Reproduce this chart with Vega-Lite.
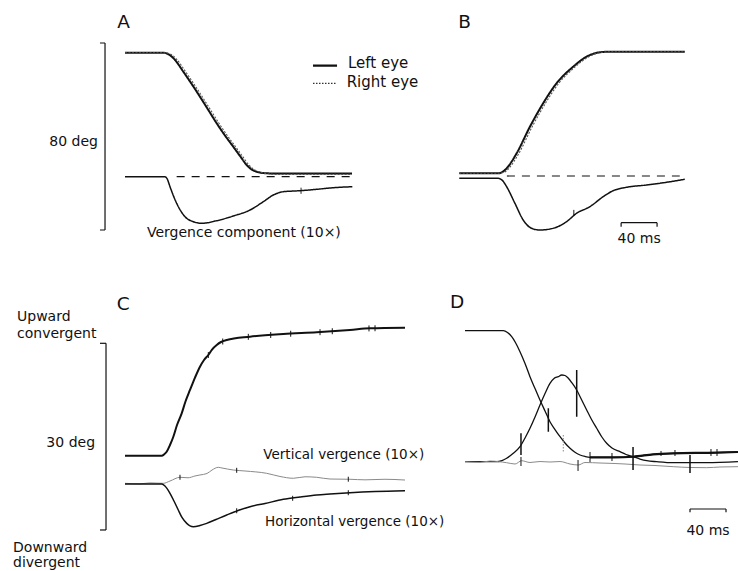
{
  "$schema": "https://vega.github.io/schema/vega-lite/v6.json",
  "padding": 0,
  "background": "white",
  "spacing": 0,
  "bounds": "flush",
  "columns": 2,
  "config": {"view": {"stroke": null}, "font": "DejaVu Sans", "text": {"color": "#111"}},
  "datasets": {
    "A_lines": [
      {"s":"Left eye","t":0,"d":53.05},{"s":"Left eye","t":42.2,"d":53.05},{"s":"Left eye","t":47.8,"d":52.49},{"s":"Left eye","t":55.6,"d":49.93},{"s":"Left eye","t":64.8,"d":44.92},{"s":"Left eye","t":74.1,"d":39.66},{"s":"Left eye","t":83.3,"d":34.22},{"s":"Left eye","t":92.6,"d":28.53},{"s":"Left eye","t":101.9,"d":22.84},{"s":"Left eye","t":111.1,"d":17.63},{"s":"Left eye","t":120.3,"d":12.83},{"s":"Left eye","t":127.8,"d":8.86},{"s":"Left eye","t":135.2,"d":5.01},{"s":"Left eye","t":140,"d":3.29},{"s":"Left eye","t":146.3,"d":2.14},{"s":"Left eye","t":153.3,"d":1.58},{"s":"Left eye","t":166.7,"d":1.37},{"s":"Left eye","t":252.2,"d":1.37},
      {"s":"Right eye","t":0,"d":53.05},{"s":"Right eye","t":42.2,"d":53.05},{"s":"Right eye","t":50.3,"d":52.49},{"s":"Right eye","t":58.1,"d":49.93},{"s":"Right eye","t":67.3,"d":44.92},{"s":"Right eye","t":76.6,"d":39.66},{"s":"Right eye","t":85.8,"d":34.22},{"s":"Right eye","t":95.1,"d":28.53},{"s":"Right eye","t":104.4,"d":22.84},{"s":"Right eye","t":113.6,"d":17.63},{"s":"Right eye","t":122.8,"d":12.83},{"s":"Right eye","t":130.3,"d":8.86},{"s":"Right eye","t":137.7,"d":5.01},{"s":"Right eye","t":142.5,"d":3.29},{"s":"Right eye","t":148.8,"d":2.14},{"s":"Right eye","t":155.8,"d":1.4},{"s":"Right eye","t":169,"d":1.0},{"s":"Right eye","t":252.2,"d":1.0},
      {"s":"Vergence","t":0,"d":0},{"s":"Vergence","t":44.4,"d":0},{"s":"Vergence","t":47.2,"d":-1.2},{"s":"Vergence","t":50,"d":-4.28},{"s":"Vergence","t":57.4,"d":-11.38},{"s":"Vergence","t":66.7,"d":-17.11},{"s":"Vergence","t":75.9,"d":-19.25},{"s":"Vergence","t":85.2,"d":-19.94},{"s":"Vergence","t":101.9,"d":-18.82},{"s":"Vergence","t":120.3,"d":-16.81},{"s":"Vergence","t":138.9,"d":-14.25},{"s":"Vergence","t":153.7,"d":-10.7},{"s":"Vergence","t":164.8,"d":-7.83},{"s":"Vergence","t":175.9,"d":-6.42},{"s":"Vergence","t":194.4,"d":-5.99},{"s":"Vergence","t":213,"d":-5.39},{"s":"Vergence","t":231.4,"d":-4.71},{"s":"Vergence","t":252.6,"d":-4.28}
    ],
    "A_rules": [
      {"k":"dash","t":57.4,"d":0,"t2":252.6,"d2":0},
      {"k":"bar","t":-22.2,"d":57.2,"t2":-22.2,"d2":-22.8},
      {"k":"bar","t":-27.8,"d":57.2,"t2":-22.2,"d2":57.2},
      {"k":"bar","t":-27.8,"d":-22.8,"t2":-22.2,"d2":-22.8},
      {"k":"legendSolid","t":208.9,"d":47.49,"t2":235.6,"d2":47.49},
      {"k":"legendDot","t":208.9,"d":39.96,"t2":235.6,"d2":39.96},
      {"k":"tick","t":195.6,"d":-4.7,"t2":195.6,"d2":-7.3}
    ],
    "A_text": [
      {"pos":"left","t":24.4,"d":-25.8,"label":"Vergence component (10×)"},
      {"pos":"legend","t":247.8,"d":46.37,"label":"Left eye"},
      {"pos":"legend","t":246.3,"d":38.5,"label":"Right eye"},
      {"pos":"right","t":-30,"d":13.13,"label":"80 deg"},
      {"pos":"letter","t":-8.6,"d":63.49,"label":"A"}
    ],
    "B_lines": [
      {"s":"Left eye","t":0,"d":1.16},{"s":"Left eye","t":43.3,"d":1.16},{"s":"Left eye","t":48,"d":1.71},{"s":"Left eye","t":52.7,"d":3.29},{"s":"Left eye","t":63.8,"d":9.71},{"s":"Left eye","t":78.6,"d":21.09},{"s":"Left eye","t":93.3,"d":31.1},{"s":"Left eye","t":108.2,"d":39.66},{"s":"Left eye","t":126.7,"d":46.76},{"s":"Left eye","t":141.6,"d":51.04},{"s":"Left eye","t":156.3,"d":52.92},{"s":"Left eye","t":167.4,"d":53.18},{"s":"Left eye","t":250.8,"d":53.18},
      {"s":"Right eye","t":0,"d":1.16},{"s":"Right eye","t":43.3,"d":1.16},{"s":"Right eye","t":50.5,"d":1.71},{"s":"Right eye","t":55.2,"d":3.29},{"s":"Right eye","t":66.3,"d":9.71},{"s":"Right eye","t":81.1,"d":21.09},{"s":"Right eye","t":95.8,"d":31.1},{"s":"Right eye","t":110.7,"d":39.66},{"s":"Right eye","t":129.2,"d":46.76},{"s":"Right eye","t":144.1,"d":51.04},{"s":"Right eye","t":158.8,"d":52.92},{"s":"Right eye","t":169.9,"d":53.18},{"s":"Right eye","t":250.8,"d":53.18},
      {"s":"Vergence","t":0,"d":-0.98},{"s":"Vergence","t":43.3,"d":-0.98},{"s":"Vergence","t":48,"d":-1.93},{"s":"Vergence","t":52.7,"d":-4.58},{"s":"Vergence","t":61.9,"d":-11.68},{"s":"Vergence","t":71.1,"d":-18.82},{"s":"Vergence","t":80.4,"d":-22.37},{"s":"Vergence","t":89.7,"d":-23.1},{"s":"Vergence","t":104.4,"d":-22.37},{"s":"Vergence","t":119.3,"d":-19.55},{"s":"Vergence","t":130.4,"d":-15.96},{"s":"Vergence","t":145.2,"d":-13.13},{"s":"Vergence","t":160,"d":-8.86},{"s":"Vergence","t":171.1,"d":-6.29},{"s":"Vergence","t":186,"d":-4.83},{"s":"Vergence","t":208.2,"d":-3.85},{"s":"Vergence","t":230.4,"d":-2.7},{"s":"Vergence","t":250.8,"d":-1.41}
    ],
    "B_rules": [
      {"k":"dash","t":53,"d":0,"t2":245.2,"d2":0},
      {"k":"bar","t":180,"d":-19.98,"t2":220,"d2":-19.98},
      {"k":"bar","t":180,"d":-19.98,"t2":180,"d2":-21.69},
      {"k":"bar","t":220,"d":-19.98,"t2":220,"d2":-21.69},
      {"k":"tick","t":127.4,"d":-14.5,"t2":127.4,"d2":-17.1}
    ],
    "B_text": [
      {"pos":"center","t":200,"d":-28.66,"label":"40 ms"},
      {"pos":"letter","t":-1.1,"d":63.44,"label":"B"}
    ],
    "C_lines": [
      {"s":"Position","t":0,"d":4.55},{"s":"Position","t":40.8,"d":4.55},{"s":"Position","t":43.3,"d":4.74},{"s":"Position","t":46.3,"d":5.19},{"s":"Position","t":50,"d":6.27},{"s":"Position","t":53.7,"d":7.6},{"s":"Position","t":57.8,"d":9.48},{"s":"Position","t":63,"d":11.36},{"s":"Position","t":67.2,"d":13.26},{"s":"Position","t":72.2,"d":15.11},{"s":"Position","t":77.8,"d":17.11},{"s":"Position","t":83.3,"d":18.85},{"s":"Position","t":87.8,"d":19.93},{"s":"Position","t":92.6,"d":20.73},{"s":"Position","t":96.7,"d":21.61},{"s":"Position","t":101.9,"d":22.34},{"s":"Position","t":106.7,"d":22.82},{"s":"Position","t":113,"d":23.14},{"s":"Position","t":138.9,"d":23.67},{"s":"Position","t":175.9,"d":24.1},{"s":"Position","t":213,"d":24.38},{"s":"Position","t":250,"d":24.75},{"s":"Position","t":272.2,"d":25.02},{"s":"Position","t":311.1,"d":25.12},
      {"s":"Vertical vergence","t":0,"d":0.11},{"s":"Vertical vergence","t":16.7,"d":0.03},{"s":"Vertical vergence","t":27.8,"d":0.18},{"s":"Vertical vergence","t":42.6,"d":0.11},{"s":"Vertical vergence","t":50,"d":0.48},{"s":"Vertical vergence","t":61.1,"d":1.08},{"s":"Vertical vergence","t":70,"d":1.0},{"s":"Vertical vergence","t":77.8,"d":1.29},{"s":"Vertical vergence","t":83.3,"d":1.45},{"s":"Vertical vergence","t":91.1,"d":1.69},{"s":"Vertical vergence","t":96.7,"d":2.25},{"s":"Vertical vergence","t":103.7,"d":2.68},{"s":"Vertical vergence","t":107.8,"d":2.57},{"s":"Vertical vergence","t":120.3,"d":2.25},{"s":"Vertical vergence","t":133.3,"d":2.09},{"s":"Vertical vergence","t":157.4,"d":1.72},{"s":"Vertical vergence","t":172.2,"d":1.21},{"s":"Vertical vergence","t":187,"d":0.92},{"s":"Vertical vergence","t":200,"d":1.16},{"s":"Vertical vergence","t":213,"d":1.08},{"s":"Vertical vergence","t":227.8,"d":0.8},{"s":"Vertical vergence","t":250,"d":0.76},{"s":"Vertical vergence","t":266.7,"d":0.67},{"s":"Vertical vergence","t":288.9,"d":0.76},{"s":"Vertical vergence","t":311.1,"d":0.64},
      {"s":"Horizontal vergence","t":0,"d":0},{"s":"Horizontal vergence","t":40.8,"d":0},{"s":"Horizontal vergence","t":44.4,"d":-0.32},{"s":"Horizontal vergence","t":50,"d":-1.49},{"s":"Horizontal vergence","t":54.4,"d":-2.73},{"s":"Horizontal vergence","t":59.2,"d":-4.18},{"s":"Horizontal vergence","t":63.3,"d":-5.38},{"s":"Horizontal vergence","t":68.6,"d":-6.32},{"s":"Horizontal vergence","t":72.2,"d":-6.72},{"s":"Horizontal vergence","t":75.9,"d":-6.86},{"s":"Horizontal vergence","t":83.3,"d":-6.67},{"s":"Horizontal vergence","t":90.8,"d":-6.32},{"s":"Horizontal vergence","t":101.1,"d":-5.7},{"s":"Horizontal vergence","t":113,"d":-4.98},{"s":"Horizontal vergence","t":125.6,"d":-4.26},{"s":"Horizontal vergence","t":138.9,"d":-3.65},{"s":"Horizontal vergence","t":155.6,"d":-3.13},{"s":"Horizontal vergence","t":175.9,"d":-2.46},{"s":"Horizontal vergence","t":194.4,"d":-2.09},{"s":"Horizontal vergence","t":213,"d":-1.77},{"s":"Horizontal vergence","t":227.8,"d":-1.61},{"s":"Horizontal vergence","t":250,"d":-1.4},{"s":"Horizontal vergence","t":277.8,"d":-1.21},{"s":"Horizontal vergence","t":311.1,"d":-1.08}
    ],
    "C_rules": [
      {"k":"bar","t":-21.1,"d":22.61,"t2":-21.1,"d2":-7.39},
      {"k":"bar","t":-27.8,"d":22.61,"t2":-21.1,"d2":22.61},
      {"k":"bar","t":-27.8,"d":-7.39,"t2":-21.1,"d2":-7.39},
      {"k":"tick","t":92.6,"d":21.21,"t2":92.6,"d2":20.25},
      {"k":"tick","t":108.6,"d":23.38,"t2":108.6,"d2":22.42},
      {"k":"tick","t":137,"d":24.13,"t2":137,"d2":23.17},
      {"k":"tick","t":161.9,"d":24.43,"t2":161.9,"d2":23.47},
      {"k":"tick","t":184.1,"d":24.63,"t2":184.1,"d2":23.67},
      {"k":"tick","t":216.7,"d":24.88,"t2":216.7,"d2":23.92},
      {"k":"tick","t":230.3,"d":25.03,"t2":230.3,"d2":24.07},
      {"k":"tick","t":271.1,"d":25.48,"t2":271.1,"d2":24.52},
      {"k":"tick","t":277.8,"d":25.51,"t2":277.8,"d2":24.55},
      {"k":"tick","t":61.1,"d":1.48,"t2":61.1,"d2":0.68},
      {"k":"tick","t":124.1,"d":2.6,"t2":124.1,"d2":1.8},
      {"k":"tick","t":248.1,"d":1.17,"t2":248.1,"d2":0.37},
      {"k":"tick","t":124.1,"d":-3.9,"t2":124.1,"d2":-4.7},
      {"k":"tick","t":186.3,"d":-1.9,"t2":186.3,"d2":-2.7},
      {"k":"tick","t":248.1,"d":-1.0,"t2":248.1,"d2":-1.8}
    ],
    "C_text": [
      {"pos":"left","t":-120,"d":26.19,"label":"Upward"},
      {"pos":"left","t":-120,"d":23.54,"label":"convergent"},
      {"pos":"left","t":-124.4,"d":-10.85,"label":"Downward"},
      {"pos":"left","t":-124.4,"d":-13.26,"label":"divergent"},
      {"pos":"leftS","t":153.7,"d":4.02,"label":"Vertical vergence (10×)"},
      {"pos":"leftS","t":155.6,"d":-6.7,"label":"Horizontal vergence (10×)"},
      {"pos":"right","t":-33.3,"d":5.99,"label":"30 deg"},
      {"pos":"letter","t":-9.2,"d":27.96,"label":"C"}
    ],
    "D_lines": [
      {"s":"Position","t":0,"d":21.05},{"s":"Position","t":42.6,"d":21.05},{"s":"Position","t":47.2,"d":20.76},{"s":"Position","t":51.9,"d":20.09},{"s":"Position","t":61.1,"d":17.68},{"s":"Position","t":66.7,"d":15.78},{"s":"Position","t":72.2,"d":13.66},{"s":"Position","t":77.8,"d":11.76},{"s":"Position","t":83.3,"d":9.91},{"s":"Position","t":88.9,"d":8.15},{"s":"Position","t":94.4,"d":6.43},{"s":"Position","t":100,"d":5.17},{"s":"Position","t":105.6,"d":4.02},{"s":"Position","t":111.1,"d":3.01},{"s":"Position","t":116.7,"d":2.15},{"s":"Position","t":122.2,"d":1.51},{"s":"Position","t":127.8,"d":1.08},{"s":"Position","t":133.3,"d":0.84},{"s":"Position","t":138.9,"d":0.71},{"s":"Position","t":164.8,"d":0.71},{"s":"Position","t":187,"d":0.8},{"s":"Position","t":208.9,"d":1.19},{"s":"Position","t":231.1,"d":1.35},{"s":"Position","t":279.7,"d":1.45},{"s":"Position","t":303.3,"d":1.56},
      {"s":"Position tail","t":138.9,"d":0.71},{"s":"Position tail","t":164.8,"d":0.71},{"s":"Position tail","t":187,"d":0.8},{"s":"Position tail","t":208.9,"d":1.19},{"s":"Position tail","t":231.1,"d":1.35},{"s":"Position tail","t":279.7,"d":1.45},{"s":"Position tail","t":303.3,"d":1.56},
      {"s":"Velocity","t":0,"d":0},{"s":"Velocity","t":35.2,"d":0},{"s":"Velocity","t":41.1,"d":0.19},{"s":"Velocity","t":46.3,"d":0.55},{"s":"Velocity","t":53.3,"d":1.32},{"s":"Velocity","t":61.1,"d":2.41},{"s":"Velocity","t":66.7,"d":3.81},{"s":"Velocity","t":72.2,"d":5.37},{"s":"Velocity","t":77.8,"d":7.18},{"s":"Velocity","t":83.3,"d":9.11},{"s":"Velocity","t":88.9,"d":10.96},{"s":"Velocity","t":94.4,"d":12.6},{"s":"Velocity","t":98.9,"d":13.37},{"s":"Velocity","t":103.7,"d":13.66},{"s":"Velocity","t":107.4,"d":13.93},{"s":"Velocity","t":111.1,"d":13.85},{"s":"Velocity","t":114.8,"d":13.4},{"s":"Velocity","t":118.9,"d":12.65},{"s":"Velocity","t":124.1,"d":11.52},{"s":"Velocity","t":129.4,"d":10.0},{"s":"Velocity","t":135.2,"d":8.31},{"s":"Velocity","t":140.6,"d":6.78},{"s":"Velocity","t":146.3,"d":5.37},{"s":"Velocity","t":151.7,"d":4.05},{"s":"Velocity","t":157.4,"d":2.96},{"s":"Velocity","t":163.3,"d":2.2},{"s":"Velocity","t":172.2,"d":1.61},{"s":"Velocity","t":178.9,"d":1.16},{"s":"Velocity","t":187,"d":0.8},{"s":"Velocity","t":194.4,"d":0.43},{"s":"Velocity","t":201.9,"d":0.16},{"s":"Velocity","t":213,"d":0},{"s":"Velocity","t":231.4,"d":-0.16},{"s":"Velocity","t":268.6,"d":-0.16},{"s":"Velocity","t":303.3,"d":0},
      {"s":"Vertical vergence","t":0,"d":0},{"s":"Vertical vergence","t":16.7,"d":-0.1},{"s":"Vertical vergence","t":27.8,"d":0.11},{"s":"Vertical vergence","t":46.3,"d":-0.16},{"s":"Vertical vergence","t":55.6,"d":-0.37},{"s":"Vertical vergence","t":63,"d":0.16},{"s":"Vertical vergence","t":72.2,"d":-0.13},{"s":"Vertical vergence","t":83.3,"d":0.03},{"s":"Vertical vergence","t":94.4,"d":-0.05},{"s":"Vertical vergence","t":105.6,"d":0.03},{"s":"Vertical vergence","t":116.7,"d":-0.37},{"s":"Vertical vergence","t":125.9,"d":-0.53},{"s":"Vertical vergence","t":133.3,"d":-0.13},{"s":"Vertical vergence","t":150,"d":-0.21},{"s":"Vertical vergence","t":166.7,"d":-0.29},{"s":"Vertical vergence","t":177.8,"d":-0.37},{"s":"Vertical vergence","t":194.4,"d":-0.53},{"s":"Vertical vergence","t":211.1,"d":-0.61},{"s":"Vertical vergence","t":231.4,"d":-0.8},{"s":"Vertical vergence","t":250,"d":-0.93},{"s":"Vertical vergence","t":268.6,"d":-0.96},{"s":"Vertical vergence","t":283.3,"d":-0.85},{"s":"Vertical vergence","t":303.3,"d":-0.8}
    ],
    "D_rules": [
      {"k":"bigTick","t":62.2,"d":4.56,"t2":62.2,"d2":1.08},
      {"k":"bigTick","t":92.6,"d":8.58,"t2":92.6,"d2":4.82},
      {"k":"bigTick","t":124.1,"d":14.74,"t2":124.1,"d2":7.23},
      {"k":"greyTick","t":109.2,"d":4.29,"t2":109.2,"d2":1.61},
      {"k":"tick","t":62.2,"d":0.76,"t2":62.2,"d2":-0.69},
      {"k":"tick","t":125.6,"d":0.27,"t2":125.6,"d2":-1.49},
      {"k":"bigTick","t":186.7,"d":2.36,"t2":186.7,"d2":-1.33},
      {"k":"tick","t":138.9,"d":1.56,"t2":138.9,"d2":-0.05},
      {"k":"tick","t":163.3,"d":1.4,"t2":163.3,"d2":0.11},
      {"k":"tick","t":217.8,"d":1.72,"t2":217.8,"d2":0.92},
      {"k":"tick","t":233.3,"d":1.88,"t2":233.3,"d2":0.92},
      {"k":"tick","t":273.3,"d":2.04,"t2":273.3,"d2":0.92},
      {"k":"tick","t":280,"d":2.04,"t2":280,"d2":0.92},
      {"k":"bigTick","t":250,"d":1.08,"t2":250,"d2":-1.82},
      {"k":"bar","t":250,"d":-7.6,"t2":290,"d2":-7.6},
      {"k":"bar","t":250,"d":-7.6,"t2":250,"d2":-8.13},
      {"k":"bar","t":290,"d":-7.6,"t2":290,"d2":-8.13}
    ],
    "D_text": [
      {"pos":"center","t":270,"d":-11.78,"label":"40 ms"},
      {"pos":"letter","t":-16.7,"d":24.65,"label":"D"}
    ]
  },
  "concat": [
    {
      "width": 420, "height": 270,
      "encoding": {
        "x": {"field":"t","type":"quantitative","scale":{"domain":[-138.89,327.78],"nice":false,"zero":false},"axis":null},
        "y": {"field":"d","type":"quantitative","scale":{"domain":[-39.91,75.59],"nice":false,"zero":false},"axis":null}
      },
      "layer": [
        {"data":{"name":"A_lines"},"mark":{"type":"line","interpolate":"monotone"},
         "encoding":{
           "color":{"field":"s","type":"nominal","scale":{"domain":["Left eye","Right eye","Vergence"],"range":["#111111","#555555","#111111"]},"legend":null},
           "strokeWidth":{"field":"s","type":"nominal","scale":{"type":"ordinal","domain":["Left eye","Right eye","Vergence"],"range":[2,1.1,1.5]},"legend":null},
           "strokeDash":{"field":"s","type":"nominal","scale":{"domain":["Left eye","Right eye","Vergence"],"range":[[1,0],[2,1.5],[1,0]]},"legend":null}
         }},
        {"data":{"name":"A_rules"},"mark":{"type":"rule"},
         "encoding":{
           "x2":{"field":"t2"},"y2":{"field":"d2"},
           "color":{"field":"k","type":"nominal","scale":{"domain":["bar","dash","legendSolid","legendDot","tick","bigTick","greyTick"],"range":["#111111","#111111","#111111","#333333","#111111","#111111","#8a8a8a"]},"legend":null},
           "strokeWidth":{"field":"k","type":"nominal","scale":{"type":"ordinal","domain":["bar","dash","legendSolid","legendDot","tick","bigTick","greyTick"],"range":[1.2,1.2,2.2,1.2,1,1.5,1]},"legend":null},
           "strokeDash":{"field":"k","type":"nominal","scale":{"domain":["bar","dash","legendSolid","legendDot","tick","bigTick","greyTick"],"range":[[1,0],[8,7],[1,0],[1.5,1.5],[1,0],[1,0],[1.5,1.5]]},"legend":null}
         }},
        {"data":{"name":"A_text"},"transform":[{"filter":"datum.pos === 'left'"}],"mark":{"type":"text","align":"left","baseline":"alphabetic","fontSize":14},"encoding":{"text":{"field":"label"}}},
        {"data":{"name":"A_text"},"transform":[{"filter":"datum.pos === 'legend'"}],"mark":{"type":"text","align":"left","baseline":"alphabetic","fontSize":15},"encoding":{"text":{"field":"label"}}},
        {"data":{"name":"A_text"},"transform":[{"filter":"datum.pos === 'right'"}],"mark":{"type":"text","align":"right","baseline":"alphabetic","fontSize":14},"encoding":{"text":{"field":"label"}}},
        {"data":{"name":"A_text"},"transform":[{"filter":"datum.pos === 'letter'"}],"mark":{"type":"text","align":"left","baseline":"alphabetic","fontSize":18.5},"encoding":{"text":{"field":"label"}}}
      ],
      "resolve": {"scale": {"color":"independent","strokeWidth":"independent","strokeDash":"independent"}}
    },
    {
      "width": 318, "height": 270,
      "encoding": {
        "x": {"field":"t","type":"quantitative","scale":{"domain":[-43.67,310],"nice":false,"zero":false},"axis":null},
        "y": {"field":"d","type":"quantitative","scale":{"domain":[-40.21,75.29],"nice":false,"zero":false},"axis":null}
      },
      "layer": [
        {"data":{"name":"B_lines"},"mark":{"type":"line","interpolate":"monotone"},
         "encoding":{
           "color":{"field":"s","type":"nominal","scale":{"domain":["Left eye","Right eye","Vergence"],"range":["#111111","#555555","#111111"]},"legend":null},
           "strokeWidth":{"field":"s","type":"nominal","scale":{"type":"ordinal","domain":["Left eye","Right eye","Vergence"],"range":[2,1.1,1.5]},"legend":null},
           "strokeDash":{"field":"s","type":"nominal","scale":{"domain":["Left eye","Right eye","Vergence"],"range":[[1,0],[2,1.5],[1,0]]},"legend":null}
         }},
        {"data":{"name":"B_rules"},"mark":{"type":"rule"},
         "encoding":{
           "x2":{"field":"t2"},"y2":{"field":"d2"},
           "color":{"field":"k","type":"nominal","scale":{"domain":["bar","dash","legendSolid","legendDot","tick","bigTick","greyTick"],"range":["#111111","#111111","#111111","#333333","#111111","#111111","#8a8a8a"]},"legend":null},
           "strokeWidth":{"field":"k","type":"nominal","scale":{"type":"ordinal","domain":["bar","dash","legendSolid","legendDot","tick","bigTick","greyTick"],"range":[1.2,1.2,2.2,1.2,1,1.5,1]},"legend":null},
           "strokeDash":{"field":"k","type":"nominal","scale":{"domain":["bar","dash","legendSolid","legendDot","tick","bigTick","greyTick"],"range":[[1,0],[8,7],[1,0],[1.5,1.5],[1,0],[1,0],[1.5,1.5]]},"legend":null}
         }},
        {"data":{"name":"B_text"},"transform":[{"filter":"datum.pos === 'center'"}],"mark":{"type":"text","align":"center","baseline":"alphabetic","fontSize":14},"encoding":{"text":{"field":"label"}}},
        {"data":{"name":"B_text"},"transform":[{"filter":"datum.pos === 'letter'"}],"mark":{"type":"text","align":"left","baseline":"alphabetic","fontSize":18.5},"encoding":{"text":{"field":"label"}}}
      ],
      "resolve": {"scale": {"color":"independent","strokeWidth":"independent","strokeDash":"independent"}}
    },
    {
      "width": 420, "height": 301,
      "encoding": {
        "x": {"field":"t","type":"quantitative","scale":{"domain":[-138.89,327.78],"nice":false,"zero":false},"axis":null},
        "y": {"field":"d","type":"quantitative","scale":{"domain":[-13.98,34.39],"nice":false,"zero":false},"axis":null}
      },
      "layer": [
        {"data":{"name":"C_lines"},"mark":{"type":"line","interpolate":"monotone"},
         "encoding":{
           "color":{"field":"s","type":"nominal","scale":{"domain":["Position","Vertical vergence","Horizontal vergence"],"range":["#111111","#8a8a8a","#111111"]},"legend":null},
           "strokeWidth":{"field":"s","type":"nominal","scale":{"type":"ordinal","domain":["Position","Vertical vergence","Horizontal vergence"],"range":[2,1,1.5]},"legend":null}
         }},
        {"data":{"name":"C_rules"},"mark":{"type":"rule"},
         "encoding":{
           "x2":{"field":"t2"},"y2":{"field":"d2"},
           "color":{"field":"k","type":"nominal","scale":{"domain":["bar","dash","legendSolid","legendDot","tick","bigTick","greyTick"],"range":["#111111","#111111","#111111","#333333","#111111","#111111","#8a8a8a"]},"legend":null},
           "strokeWidth":{"field":"k","type":"nominal","scale":{"type":"ordinal","domain":["bar","dash","legendSolid","legendDot","tick","bigTick","greyTick"],"range":[1.2,1.2,2.2,1.2,1,1.5,1]},"legend":null}
         }},
        {"data":{"name":"C_text"},"transform":[{"filter":"datum.pos === 'left'"}],"mark":{"type":"text","align":"left","baseline":"alphabetic","fontSize":14},"encoding":{"text":{"field":"label"}}},
        {"data":{"name":"C_text"},"transform":[{"filter":"datum.pos === 'leftS'"}],"mark":{"type":"text","align":"left","baseline":"alphabetic","fontSize":13.5},"encoding":{"text":{"field":"label"}}},
        {"data":{"name":"C_text"},"transform":[{"filter":"datum.pos === 'right'"}],"mark":{"type":"text","align":"right","baseline":"alphabetic","fontSize":14},"encoding":{"text":{"field":"label"}}},
        {"data":{"name":"C_text"},"transform":[{"filter":"datum.pos === 'letter'"}],"mark":{"type":"text","align":"left","baseline":"alphabetic","fontSize":18.5},"encoding":{"text":{"field":"label"}}}
      ],
      "resolve": {"scale": {"color":"independent","strokeWidth":"independent"}}
    },
    {
      "width": 318, "height": 301,
      "encoding": {
        "x": {"field":"t","type":"quantitative","scale":{"domain":[-50,303.33],"nice":false,"zero":false},"axis":null},
        "y": {"field":"d","type":"quantitative","scale":{"domain":[-17.56,30.8],"nice":false,"zero":false},"axis":null}
      },
      "layer": [
        {"data":{"name":"D_lines"},"mark":{"type":"line","interpolate":"monotone"},
         "encoding":{
           "color":{"field":"s","type":"nominal","scale":{"domain":["Position","Position tail","Velocity","Vertical vergence"],"range":["#111111","#111111","#111111","#8a8a8a"]},"legend":null},
           "strokeWidth":{"field":"s","type":"nominal","scale":{"type":"ordinal","domain":["Position","Position tail","Velocity","Vertical vergence"],"range":[1.3,2.2,1.3,1]},"legend":null}
         }},
        {"data":{"name":"D_rules"},"mark":{"type":"rule"},
         "encoding":{
           "x2":{"field":"t2"},"y2":{"field":"d2"},
           "color":{"field":"k","type":"nominal","scale":{"domain":["bar","dash","legendSolid","legendDot","tick","bigTick","greyTick"],"range":["#111111","#111111","#111111","#333333","#111111","#111111","#8a8a8a"]},"legend":null},
           "strokeWidth":{"field":"k","type":"nominal","scale":{"type":"ordinal","domain":["bar","dash","legendSolid","legendDot","tick","bigTick","greyTick"],"range":[1.2,1.2,2.2,1.2,1,1.5,1]},"legend":null},
           "strokeDash":{"field":"k","type":"nominal","scale":{"domain":["bar","dash","legendSolid","legendDot","tick","bigTick","greyTick"],"range":[[1,0],[8,7],[1,0],[1.5,1.5],[1,0],[1,0],[1.5,1.5]]},"legend":null}
         }},
        {"data":{"name":"D_text"},"transform":[{"filter":"datum.pos === 'center'"}],"mark":{"type":"text","align":"center","baseline":"alphabetic","fontSize":14},"encoding":{"text":{"field":"label"}}},
        {"data":{"name":"D_text"},"transform":[{"filter":"datum.pos === 'letter'"}],"mark":{"type":"text","align":"left","baseline":"alphabetic","fontSize":18.5},"encoding":{"text":{"field":"label"}}}
      ],
      "resolve": {"scale": {"color":"independent","strokeWidth":"independent","strokeDash":"independent"}}
    }
  ]
}
